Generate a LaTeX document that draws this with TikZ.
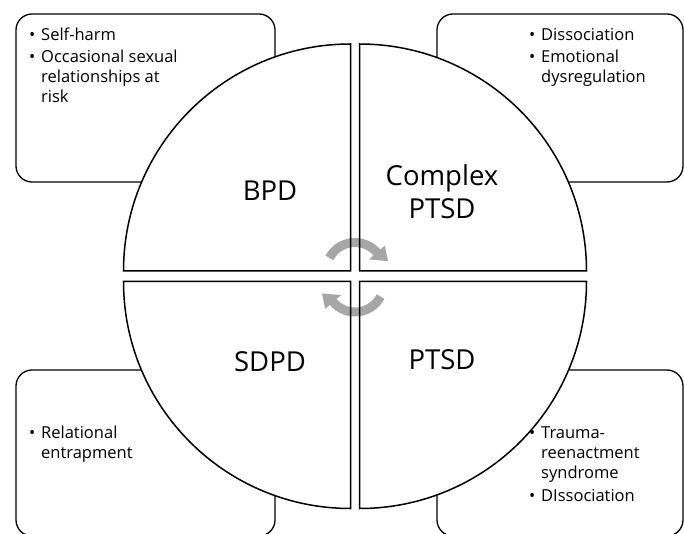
\documentclass[tikz,border=0pt]{standalone}
\usepackage{fontspec}
\setmainfont{Open Sans}
\usetikzlibrary{arrows.meta}

\definecolor{cyclegrey}{HTML}{A6A6A6}

\tikzset{
  infobox/.style={draw=black, line width=1.3pt, rounded corners=16pt, fill=white},
  quarterfill/.style={fill=white},
  quarterline/.style={draw=black, line width=1.5pt, line join=miter},
  biglabel/.style={font=\fontsize{27.5}{33}\selectfont, align=center, inner sep=0pt},
  itemtext/.style={font=\fontsize{16.5}{20}\selectfont, anchor=base west, inner sep=0pt},
  cyclearc/.style={draw=cyclegrey, line width=9pt},
  cyclehead/.style={fill=cyclegrey},
}

\newcommand{\bul}{\makebox[12pt][l]{\textbullet}}
\newcommand{\ind}{\hspace*{12pt}}

\begin{document}
\begin{tikzpicture}[x=1pt,y=1pt]
  \useasboundingbox (0,0) rectangle (684,533);

  % rounded boxes behind the circle
  \node[infobox, minimum width=259pt, minimum height=168pt] (boxTL) at (145.5,435) {};
  \node[infobox, minimum width=246pt, minimum height=168pt] (boxTR) at (560,435) {};
  \node[infobox, minimum width=259pt, minimum height=166pt] (boxBL) at (145.5,80) {};
  \node[infobox, minimum width=246pt, minimum height=166pt] (boxBR) at (560,80) {};

  % box texts
  \node[itemtext] (txtTL) at (29,492.5) {\begin{tabular}[t]{@{}l@{}}
    \bul Self-harm\\[2pt]
    \bul Occasional sexual\\
    \ind relationships at\\
    \ind risk
  \end{tabular}};
  \node[itemtext] (txtTR) at (529,492.5) {\begin{tabular}[t]{@{}l@{}}
    \bul Dissociation\\[2pt]
    \bul Emotional\\
    \ind dysregulation
  \end{tabular}};
  \node[itemtext] (txtBL) at (29,94.5) {\begin{tabular}[t]{@{}l@{}}
    \bul Relational\\
    \ind entrapment
  \end{tabular}};
  \node[itemtext] (txtBR) at (529,94.5) {\begin{tabular}[t]{@{}l@{}}
    \bul Trauma-\\
    \ind reenactment\\
    \ind syndrome\\[3pt]
    \bul DIssociation
  \end{tabular}};

  % quarter corners
  \coordinate (qTL) at (350.5,262);
  \coordinate (qTR) at (359.5,262);
  \coordinate (qBL) at (350.5,251.5);
  \coordinate (qBR) at (359.5,251.5);

  % white fills of the four quarters
  \path[quarterfill] (qTL) -- ++(0,227) arc[start angle=90,end angle=180,radius=227] -- cycle;
  \path[quarterfill] (qTR) -- ++(0,227) arc[start angle=90,end angle=0,radius=227] -- cycle;
  \path[quarterfill] (qBL) -- ++(-227,0) arc[start angle=180,end angle=270,radius=227] -- cycle;
  \path[quarterfill] (qBR) -- ++(227,0) arc[start angle=0,end angle=-90,radius=227] -- cycle;

  % cycle arrows in the middle
  \coordinate (ctop) at (355,261.5);
  \coordinate (cbot) at (355,250);
  \draw[cyclearc] ([shift={(152:29)}]ctop) arc[start angle=152,end angle=39,radius=29];
  \fill[cyclehead] ([shift={(41:18.5)}]ctop) -- ([shift={(41:39.5)}]ctop)
    -- ([shift={(17.5:34.6)}]ctop) -- cycle;
  \draw[cyclearc] ([shift={(332:29)}]cbot) arc[start angle=332,end angle=219,radius=29];
  \fill[cyclehead] ([shift={(221:18.5)}]cbot) -- ([shift={(221:39.5)}]cbot)
    -- ([shift={(197.5:34.6)}]cbot) -- cycle;

  % quarter outlines
  \draw[quarterline] (qTL) -- ++(0,227) arc[start angle=90,end angle=180,radius=227] -- cycle;
  \draw[quarterline] (qTR) -- ++(0,227) arc[start angle=90,end angle=0,radius=227] -- cycle;
  \draw[quarterline] (qBL) -- ++(-227,0) arc[start angle=180,end angle=270,radius=227] -- cycle;
  \draw[quarterline] (qBR) -- ++(227,0) arc[start angle=0,end angle=-90,radius=227] -- cycle;

  % quarter labels
  \node[biglabel] (lblBPD) at (270,342) {BPD};
  \node[biglabel] (lblCPTSD) at (442,341.5) {Complex\\PTSD};
  \node[biglabel] (lblSDPD) at (270,171) {SDPD};
  \node[biglabel] (lblPTSD) at (442,173) {PTSD};
\end{tikzpicture}
\end{document}
